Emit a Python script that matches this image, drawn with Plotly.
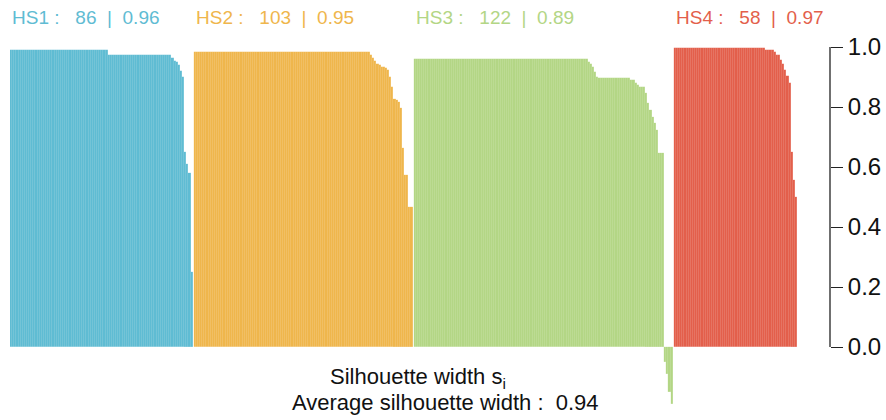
import plotly.graph_objects as go

# ---- data (sorted silhouette widths per cluster) ----
cluster_names = ["HS1", "HS2", "HS3", "HS4"]
cluster_sizes = [86, 103, 122, 58]
cluster_avg = ["0.96", "0.95", "0.89", "0.97"]
avg_width = "0.94"
colors = ["#5FBCD3", "#EFB64C", "#B3D685", "#E35F4B"]

hs1 = [
    0.99, 0.99, 0.99, 0.99, 0.99, 0.99, 0.99, 0.99, 0.99, 0.99,
    0.99, 0.99, 0.99, 0.99, 0.99, 0.99, 0.99, 0.99, 0.99, 0.99,
    0.99, 0.99, 0.99, 0.99, 0.99, 0.99, 0.99, 0.99, 0.99, 0.99,
    0.99, 0.99, 0.99, 0.99, 0.99, 0.99, 0.99, 0.99, 0.99, 0.99,
    0.99, 0.99, 0.99, 0.99, 0.99, 0.99, 0.973, 0.973, 0.973, 0.973,
    0.973, 0.973, 0.973, 0.973, 0.973, 0.973, 0.973, 0.973, 0.973, 0.973,
    0.973, 0.973, 0.973, 0.973, 0.973, 0.973, 0.973, 0.973, 0.973, 0.973,
    0.973, 0.973, 0.973, 0.973, 0.973, 0.973, 0.965, 0.955, 0.95, 0.94,
    0.92, 0.90, 0.65, 0.61, 0.58, 0.25,
]
hs2 = [
    0.985, 0.985, 0.985, 0.985, 0.985, 0.985, 0.985, 0.985, 0.985, 0.985,
    0.985, 0.985, 0.985, 0.985, 0.985, 0.985, 0.985, 0.985, 0.985, 0.985,
    0.985, 0.985, 0.985, 0.985, 0.985, 0.985, 0.985, 0.985, 0.985, 0.985,
    0.985, 0.985, 0.985, 0.985, 0.985, 0.985, 0.985, 0.985, 0.985, 0.985,
    0.985, 0.985, 0.985, 0.985, 0.985, 0.985, 0.985, 0.985, 0.985, 0.985,
    0.985, 0.985, 0.985, 0.985, 0.985, 0.985, 0.985, 0.985, 0.985, 0.985,
    0.985, 0.985, 0.985, 0.985, 0.985, 0.985, 0.985, 0.985, 0.985, 0.985,
    0.985, 0.985, 0.985, 0.985, 0.985, 0.985, 0.985, 0.985, 0.985, 0.985,
    0.985, 0.985, 0.985, 0.975, 0.962, 0.955, 0.945, 0.94, 0.934, 0.934,
    0.93, 0.923, 0.90, 0.868, 0.828, 0.825, 0.818, 0.797, 0.663, 0.573,
    0.573, 0.468, 0.468,
]
hs3 = [
    0.96, 0.96, 0.96, 0.96, 0.96, 0.96, 0.96, 0.96, 0.96, 0.96,
    0.96, 0.96, 0.96, 0.96, 0.96, 0.96, 0.96, 0.96, 0.96, 0.96,
    0.96, 0.96, 0.96, 0.96, 0.96, 0.96, 0.96, 0.96, 0.96, 0.96,
    0.96, 0.96, 0.96, 0.96, 0.96, 0.96, 0.96, 0.96, 0.96, 0.96,
    0.96, 0.96, 0.96, 0.96, 0.96, 0.96, 0.96, 0.96, 0.96, 0.96,
    0.96, 0.96, 0.96, 0.96, 0.96, 0.96, 0.96, 0.96, 0.96, 0.96,
    0.96, 0.96, 0.96, 0.96, 0.96, 0.96, 0.96, 0.96, 0.96, 0.96,
    0.96, 0.96, 0.96, 0.96, 0.96, 0.96, 0.96, 0.96, 0.96, 0.96,
    0.96, 0.96, 0.951, 0.945, 0.934, 0.917, 0.90, 0.896, 0.896, 0.896,
    0.896, 0.896, 0.896, 0.896, 0.896, 0.896, 0.896, 0.896, 0.896, 0.896,
    0.896, 0.896, 0.89, 0.89, 0.88, 0.873, 0.868, 0.868, 0.868, 0.846,
    0.812, 0.79, 0.768, 0.746, 0.723, 0.646, 0.646, 0.646, -0.05, -0.09,
    -0.15, -0.19,
]
hs4 = [
    0.998, 0.998, 0.998, 0.998, 0.998, 0.998, 0.998, 0.998, 0.998, 0.998,
    0.998, 0.998, 0.998, 0.998, 0.998, 0.998, 0.998, 0.998, 0.998, 0.998,
    0.998, 0.998, 0.998, 0.998, 0.998, 0.998, 0.998, 0.998, 0.998, 0.998,
    0.998, 0.998, 0.998, 0.998, 0.998, 0.998, 0.998, 0.998, 0.998, 0.998,
    0.998, 0.998, 0.998, 0.99, 0.99, 0.99, 0.99, 0.985, 0.973, 0.973,
    0.957, 0.945, 0.925, 0.905, 0.879, 0.651, 0.557, 0.50,
]
series = [hs1, hs2, hs3, hs4]
y_tick_vals = [0.0, 0.2, 0.4, 0.6, 0.8, 1.0]
y_tick_text = ["0.0", "0.2", "0.4", "0.6", "0.8", "1.0"]

# ---- layout constants ----
W, H = 886, 420
ML, MR, MT, MB = 10, 56, 47, 13
GAP = 0.5
FONT = "Liberation Sans, Arial, Helvetica, sans-serif"

fig = go.Figure()
offsets = []
off = 0.0
for name, vals, col in zip(cluster_names, series, colors):
    offsets.append(off)
    xs = [off + i + 0.5 for i in range(len(vals))]
    fig.add_trace(go.Bar(
        x=xs, y=vals, width=1.0, name=name,
        marker=dict(color=col, line=dict(color="rgba(255,255,255,0.06)", width=0.3)),
        showlegend=False, hoverinfo="y",
    ))
    off += len(vals) + GAP
total_units = off - GAP
plot_w = W - ML - MR
bar_px = 787.0
x_max = total_units * plot_w / bar_px
ph = H - MT - MB

annotations = []
for name, n, avg, col, o in zip(cluster_names, cluster_sizes, cluster_avg, colors, offsets):
    sp = "\u00a0"
    txt = f"{name}{sp}:{sp*3}{n}{sp*2}|{sp*2}{avg}"
    annotations.append(dict(
        x=o, xref="x", y=1 + (MT - 17) / ph, yref="paper",
        xanchor="left", yanchor="middle", text=txt, showarrow=False,
        font=dict(family=FONT, size=19, color=col),
    ))

annotations.append(dict(
    x=(328 - ML) / plot_w, xref="paper", y=(H - MB - 378) / ph, yref="paper",
    xanchor="left", yanchor="middle", text="Silhouette width s<sub>i</sub>",
    showarrow=False, font=dict(family=FONT, size=22, color="#111"),
))
annotations.append(dict(
    x=(290 - ML) / plot_w, xref="paper", y=(H - MB - 402) / ph, yref="paper",
    xanchor="left", yanchor="middle",
    text="Average silhouette width :\u00a0\u00a0" + avg_width,
    showarrow=False, font=dict(family=FONT, size=22, color="#111"),
))

fig.update_layout(
    width=W, height=H,
    margin=dict(l=ML, r=MR, t=MT, b=MB, pad=0, autoexpand=False),
    paper_bgcolor="white", plot_bgcolor="white",
    bargap=0, barmode="overlay",
    xaxis=dict(range=[0, x_max], visible=False, fixedrange=True, automargin=False),
    yaxis=dict(
        range=[-0.2, 1.0], side="right", tickvals=y_tick_vals, ticktext=y_tick_text,
        ticks="outside", ticklen=12, tickwidth=1.3, tickcolor="#222",
        showline=False, showgrid=False, zeroline=False, automargin=False,
        tickfont=dict(family=FONT, size=24, color="#111"), fixedrange=True,
    ),
    annotations=annotations,
    shapes=[dict(type="line", xref="paper", x0=1, x1=1, yref="y", y0=0, y1=1,
                 line=dict(color="#222", width=1.3))],
    font=dict(family=FONT),
)

fig.write_html("out.html", config={"displayModeBar": False},
               post_script="document.body.style.margin='0px';")
